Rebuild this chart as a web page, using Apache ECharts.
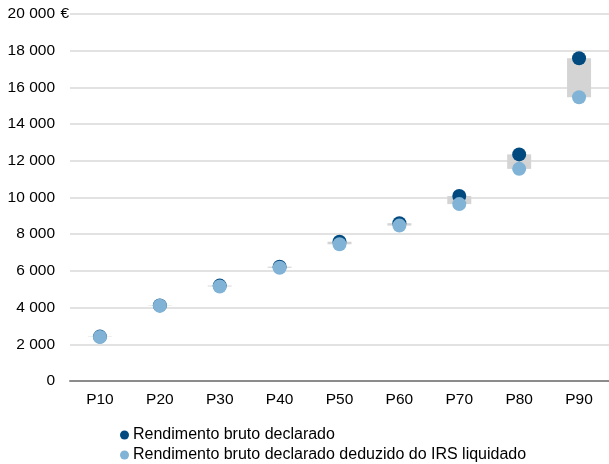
<!DOCTYPE html>
<html>
<head>
<meta charset="utf-8">
<style>
html,body{margin:0;padding:0;background:#fff;}
#c{width:609px;height:464px;}
</style>
<script src="https://cdn.jsdelivr.net/npm/echarts@6/dist/echarts.min.js"></script>
</head>
<body>
<div id="c"></div>
<script>
var categories = ['P10','P20','P30','P40','P50','P60','P70','P80','P90'];
var brutoDeclarado = [2420, 4120, 5200, 6230, 7590, 8600, 10080, 12350, 17590];
var brutoDeduzidoIRS = [2400, 4100, 5150, 6170, 7450, 8470, 9640, 11560, 15460];
var yTicks = [0, 2000, 4000, 6000, 8000, 10000, 12000, 14000, 16000, 18000, 20000];
var seriesNames = ['Rendimento bruto declarado', 'Rendimento bruto declarado deduzido do IRS liquidado'];

var baseVals = brutoDeduzidoIRS.slice();
var diffVals = brutoDeclarado.map(function (v, i) { return v - brutoDeduzidoIRS[i]; });

function fmt(v) {
  return String(v).replace(/\B(?=(\d{3})+(?!\d))/g, ' ');
}

var chart = echarts.init(document.getElementById('c'));
var font = 'Liberation Sans, Arial, sans-serif';
var fs = 15.5;
function legendOf(name, top) {
  return {
    data: [name],
    left: 115,
    top: top,
    itemWidth: 9,
    itemHeight: 9,
    itemGap: 0,
    icon: 'circle',
    textStyle: { fontFamily: font, fontSize: 16, color: '#000', padding: [0, 0, 0, -1] }
  };
}
chart.setOption({
  animation: false,
  textStyle: { fontFamily: font },
  grid: { left: 70, right: 0, top: 14, bottom: 83, containLabel: false },
  legend: [legendOf(seriesNames[0], 422), legendOf(seriesNames[1], 442)],
  xAxis: {
    type: 'category',
    data: categories,
    axisLine: { lineStyle: { color: '#8c8c8c', width: 2 } },
    axisTick: { show: false },
    axisLabel: { fontFamily: font, fontSize: fs, color: '#000', margin: 11 },
    splitLine: { show: false }
  },
  yAxis: {
    type: 'value',
    min: yTicks[0],
    max: yTicks[yTicks.length - 1],
    interval: 2000,
    name: '€',
    nameLocation: 'end',
    nameGap: 0,
    nameMoveOverlap: false,
    nameTextStyle: { fontFamily: font, fontSize: fs, color: '#000', align: 'right', verticalAlign: 'middle', padding: [0, 1, 0, 0] },
    axisLine: { show: false },
    axisTick: { show: false },
    axisLabel: { fontFamily: font, fontSize: fs, color: '#000', margin: 15, formatter: function (v) { return fmt(v); } },
    splitLine: { lineStyle: { color: '#d9d9d9', width: 1.5 } }
  },
  series: [
    {
      name: 'base', type: 'bar', stack: 'r', data: baseVals, barWidth: 24,
      itemStyle: { color: 'transparent' }, silent: true, z: 1
    },
    {
      name: 'diff', type: 'bar', stack: 'r', data: diffVals, barWidth: 24,
      itemStyle: { color: '#d4d4d4' }, silent: true, z: 1
    },
    {
      name: seriesNames[0], type: 'scatter', data: brutoDeclarado,
      symbolSize: 14, itemStyle: { color: '#004a80', opacity: 1 }, z: 3
    },
    {
      name: seriesNames[1], type: 'scatter', data: brutoDeduzidoIRS,
      symbolSize: 14, itemStyle: { color: '#80b3d6', opacity: 1 }, z: 4
    }
  ]
});
</script>
</body>
</html>
